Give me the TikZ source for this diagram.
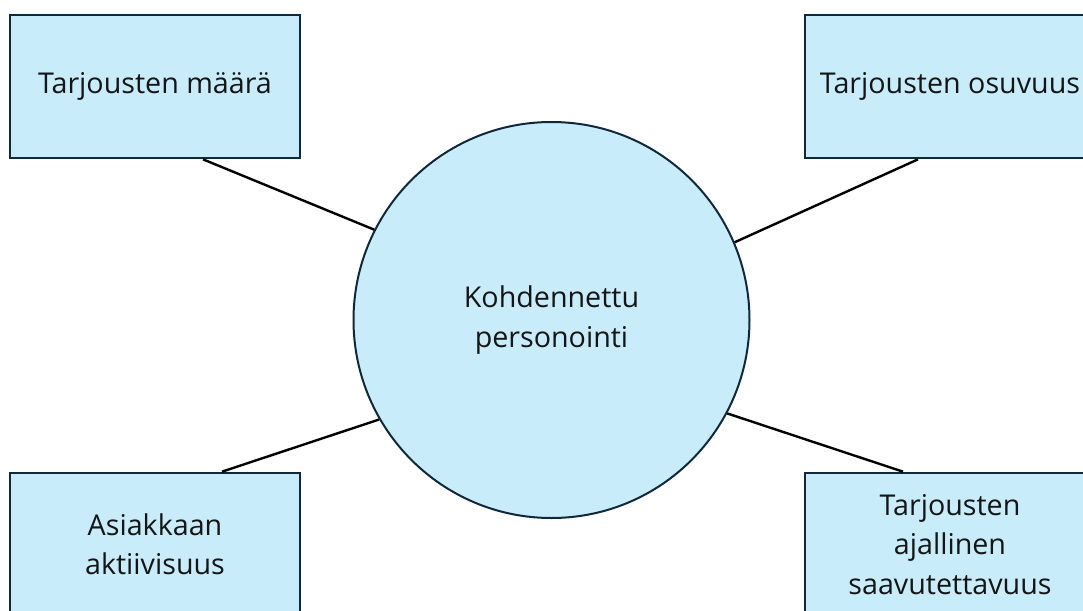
\documentclass[tikz,border=0pt]{standalone}
\usepackage{fontspec}
\setmainfont{Open Sans}
\usepackage{tikz}
\definecolor{boxfill}{HTML}{C9ECFB}
\definecolor{boxline}{HTML}{10293A}
\definecolor{txt}{HTML}{151515}
\tikzset{
  factor/.style={draw=boxline, line width=2pt, fill=boxfill, text=txt, align=center,
    minimum width=217.5pt, minimum height=107.25pt, inner sep=0pt,
    font=\fontsize{21.5}{29.5}\selectfont},
  hub/.style={circle, draw=boxline, line width=1.5pt, fill=boxfill, text=txt, align=center,
    minimum size=297pt, inner sep=0pt, font=\fontsize{21.5}{29.5}\selectfont},
  link/.style={line width=1.8pt, black}
}
\begin{document}
\begin{tikzpicture}[x=0.75pt,y=0.75pt,yscale=-1,xscale=1]
\useasboundingbox (0,0) rectangle (1083,611);
\clip (0,0) rectangle (1083,611);

%Shape: Circle
\node [hub] (kohde) at (551.5,320) {Kohdennettu\\personointi};

%Shape: Rectangles
\node [factor] (maara) at (155,86.5) {\raisebox{-2pt}{Tarjousten määrä}};
\node [factor] (osuvuus) at (950,86.5) {\raisebox{-2pt}{Tarjousten osuvuus}};
\node [factor] (aktiivisuus) at (155,544.5) {Asiakkaan\\aktiivisuus};
\node [factor] (ajallinen) at (950,544.5) {Tarjousten\\ajallinen\\saavutettavuus};

%Straight Lines
\draw [link] ([xshift=36pt]maara.south) -- (kohde.153);
\draw [link] ([xshift=-24pt]osuvuus.south) -- (kohde.23);
\draw [link] ([xshift=50.25pt]aktiivisuus.north) -- (kohde.210);
\draw [link] ([xshift=-35.25pt]ajallinen.north) -- (kohde.-28);

\end{tikzpicture}
\end{document}
